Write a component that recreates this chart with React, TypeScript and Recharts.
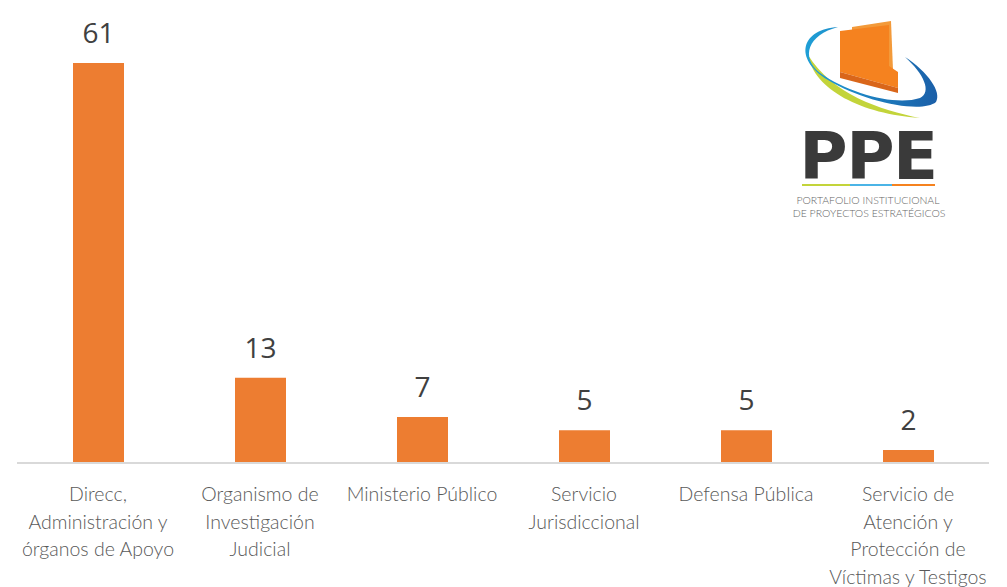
import React from 'react'
import { BarChart, Bar, XAxis, YAxis, LabelList } from 'recharts'

const categories = [
  'Direcc,\nAdministración y\nórganos de Apoyo',
  'Organismo de\nInvestigación\nJudicial',
  'Ministerio Público',
  'Servicio\nJurisdiccional',
  'Defensa Pública',
  'Servicio de\nAtención y\nProtección de\nVíctimas y Testigos',
]
const projects = [61, 13, 7, 5, 5, 2]

const data = categories.map((name, i) => ({ name, value: projects[i] }))

function CategoryTick(props: any) {
  const { x, y, payload } = props
  const lines = String(payload.value).split('\n')
  return (
    <text x={x} y={y} textAnchor="middle" fill="#595959" fontFamily="Lato, sans-serif" fontWeight={300} fontSize={19.5}>
      {lines.map((l, i) => (
        <tspan key={i} x={x} dy={i === 0 ? 38 : 27.5}>{l}</tspan>
      ))}
    </text>
  )
}

function Logo() {
  return (
    <svg width={1007} height={587} style={{ position: 'absolute', left: 0, top: 0, pointerEvents: 'none' }}>
      <defs>
        <linearGradient id="blueSw" x1="0" y1="0" x2="1" y2="0">
          <stop offset="0" stopColor="#1f9fd6" />
          <stop offset="1" stopColor="#1b5fa8" />
        </linearGradient>
      </defs>
      {/* yellow-green swoosh */}
      <path d="M808,55 C814,90 862,114 920,118 C880,110 832,94 808,55 Z" fill="#c3d43a" />
      {/* book back page */}
      <path d="M852,27 L891,21 L893,70 L852,74 Z" fill="#f39a3a" />
      {/* book front */}
      <path d="M840,31 L889,25 L889,66 L898,72 L898,88 L840,72 Z" fill="#f5821f" />
      <path d="M840,72 L898,88 L898,93 L840,78 Z" fill="#d9661a" />
      {/* blue swoosh */}
      <path d="M838,27 C802,29 792,58 828,80 C864,102 922,114 936,102 C942,92 928,72 905,57 C924,74 932,92 920,98 C896,106 850,94 820,73 C800,57 808,35 838,27 Z" fill="url(#blueSw)" />
      <text x={868} y={179} textAnchor="middle" fill="#3a3a3a" fontFamily="DejaVu Sans, sans-serif" fontWeight={700} fontSize={66} letterSpacing={-1.5}>PPE</text>
      <rect x={802} y={184} width={48} height={2} fill="#c3d43a" />
      <rect x={850} y={184} width={42} height={2} fill="#4bb4e6" />
      <rect x={892} y={184} width={43} height={2} fill="#f5821f" />
      <text x={868} y={204} textAnchor="middle" fill="#666" fontFamily="Lato, sans-serif" fontWeight={300} fontSize={10.5}>PORTAFOLIO INSTITUCIONAL</text>
      <text x={869} y={217} textAnchor="middle" fill="#666" fontFamily="Lato, sans-serif" fontWeight={300} fontSize={10.5}>DE PROYECTOS ESTRATÉGICOS</text>
    </svg>
  )
}

export default function App() {
  return (
    <div style={{ position: 'absolute', left: 0, top: 0, width: 1007, height: 587, background: '#fff' }}>
      <BarChart width={1007} height={587} data={data} margin={{ top: 63, right: 18, left: 17, bottom: 0 }}>
        <XAxis
          dataKey="name"
          interval={0}
          height={124}
          tickLine={false}
          tickSize={0}
          tickMargin={0}
          axisLine={{ stroke: '#D9D9D9', strokeWidth: 2 }}
          tick={<CategoryTick />}
        />
        <YAxis hide domain={[0, 61]} />
        <Bar dataKey="value" fill="#ED7D31" barSize={51} isAnimationActive={false}>
          <LabelList dataKey="value" position="top" offset={20} fill="#404040" fontSize={28} fontFamily="'Open Sans', sans-serif" />
        </Bar>
      </BarChart>
      <Logo />
    </div>
  )
}
